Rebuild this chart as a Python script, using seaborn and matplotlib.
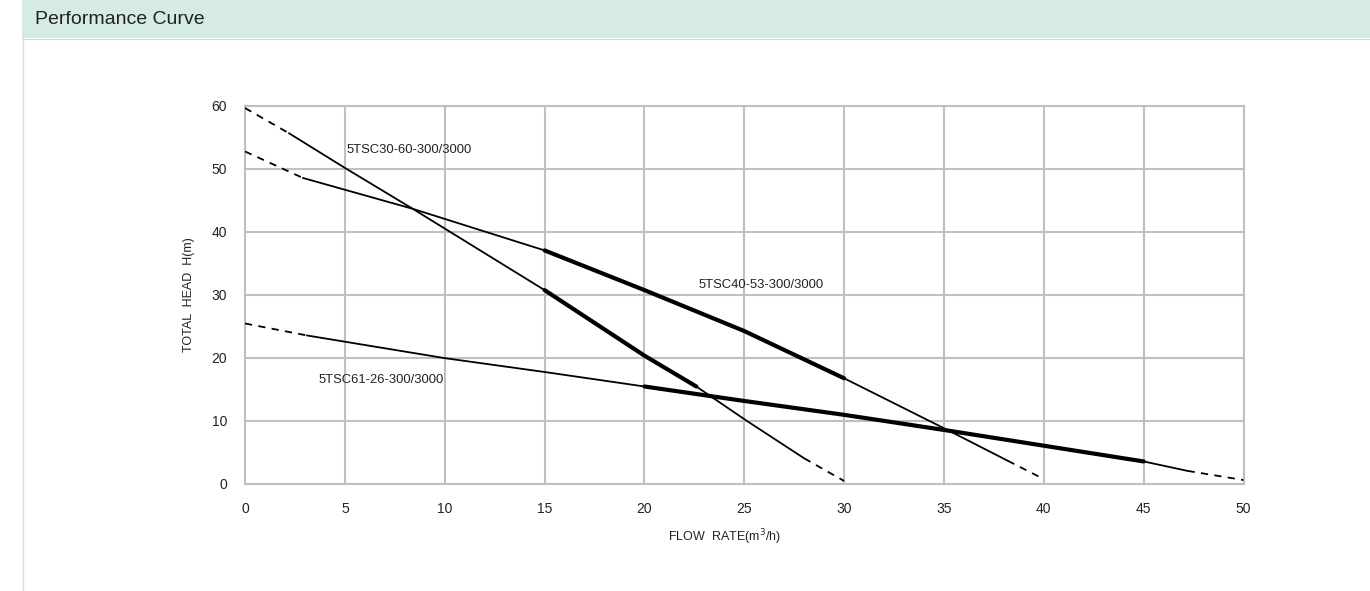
import matplotlib
matplotlib.use("Agg")
from matplotlib import pyplot as plt
import pandas as pd
import seaborn as sns

# pump curves (flow m3/h, head m)
q_30 = [0, 2.2, 5, 8.4, 15, 20, 22.6, 25.1, 28, 30]
h_30 = [59.6, 55.6, 50.1, 43.6, 30.7, 20.3, 15.4, 10.0, 4.0, 0.4]
q_40 = [0, 2.9, 8.4, 15, 20, 25, 30, 35.3, 38.2, 40]
h_40 = [52.7, 48.5, 43.6, 37.0, 30.7, 24.2, 16.7, 8.3, 3.6, 0.7]
q_61 = [0, 3.1, 10, 15, 20, 25, 30, 35, 40, 45, 47.2, 50]
h_61 = [25.4, 23.5, 19.9, 17.7, 15.4, 13.1, 10.9, 8.5, 6.0, 3.5, 2.0, 0.55]

# (dashed until, thick from, thick to, dashed from)
zones_30 = (2.2, 15, 22.6, 28)
zones_40 = (2.9, 15, 30, 38.2)
zones_61 = (3.1, 20, 45, 47.2)

models = ["5TSC30-60-300/3000", "5TSC40-53-300/3000", "5TSC61-26-300/3000"]
label_q = [5.1, 22.7, 3.7]
label_h = [52.9, 31.5, 16.4]

x_ticks = [0, 5, 10, 15, 20, 25, 30, 35, 40, 45, 50]
y_ticks = [0, 10, 20, 30, 40, 50, 60]

sns.set_style("white")
plt.rcParams['font.family'] = ['Liberation Sans', 'DejaVu Sans']
grid_c = "#c0c0c0"

fig = plt.figure(figsize=(13.70, 5.91), dpi=100)

# header band
fig.patches.append(plt.Rectangle((22 / 1370, 1 - 38 / 591), 1, 38 / 591, transform=fig.transFigure,
                                 facecolor="#d5ebe3", edgecolor="none"))
fig.add_artist(plt.Line2D([22.5 / 1370, 22.5 / 1370], [0, 1 - 38 / 591], transform=fig.transFigure,
                          color="#dddddd", lw=1))
fig.add_artist(plt.Line2D([22 / 1370, 1], [1 - 38.5 / 591, 1 - 38.5 / 591], transform=fig.transFigure,
                          color="#c8dcd6", lw=0.8))
fig.text(35 / 1370, 1 - 19 / 591, "Performance Curve", fontsize=14, va="center", ha="left",
         color="#222222")

ax = fig.add_axes([245 / 1370, 1 - 483.5 / 591, (1243.5 - 245) / 1370, (483.5 - 105.5) / 591])

for q, h, z in [(q_30, h_30, zones_30), (q_40, h_40, zones_40), (q_61, h_61, zones_61)]:
    df = pd.DataFrame({"q": q, "h": h})
    d_end, t_start, t_end, d_start = z
    parts = [
        (df[df.q <= d_end], (0, (4, 3.5)), 1.3),
        (df[(df.q >= d_end) & (df.q <= t_start)], "-", 1.3),
        (df[(df.q >= t_start) & (df.q <= t_end)], "-", 3.0),
        (df[(df.q >= t_end) & (df.q <= d_start)], "-", 1.3),
        (df[df.q >= d_start], (0, (4, 3.5)), 1.3),
    ]
    for part, ls, lw in parts:
        sns.lineplot(data=part, x="q", y="h", ax=ax, color="black", linestyle=ls,
                     linewidth=lw, sort=False, estimator=None, zorder=3)

for name, lq, lh in zip(models, label_q, label_h):
    ax.text(lq, lh, name, fontsize=9.4, va="center", ha="left", color="#222222", zorder=4)

ax.set_xlim(0, 50)
ax.set_ylim(0, 60)
ax.set_xticks(x_ticks)
ax.set_yticks(y_ticks)
ax.grid(True, color=grid_c, linewidth=1.5)
for s in ax.spines.values():
    s.set_color(grid_c)
    s.set_linewidth(1.5)
ax.tick_params(axis="both", length=5, width=1.5, color=grid_c, labelsize=10,
               labelcolor="#222222", pad=8)
ax.set_xlabel("FLOW  RATE(m$^3$/h)", fontsize=9, color="#222222")
ax.set_ylabel("TOTAL  HEAD  H(m)", fontsize=9, color="#222222")
ax.xaxis.set_label_coords(0.48, -0.115)
ax.yaxis.set_label_coords(-0.05, 0.5)

fig.savefig("out.png", dpi=100, facecolor="white")
